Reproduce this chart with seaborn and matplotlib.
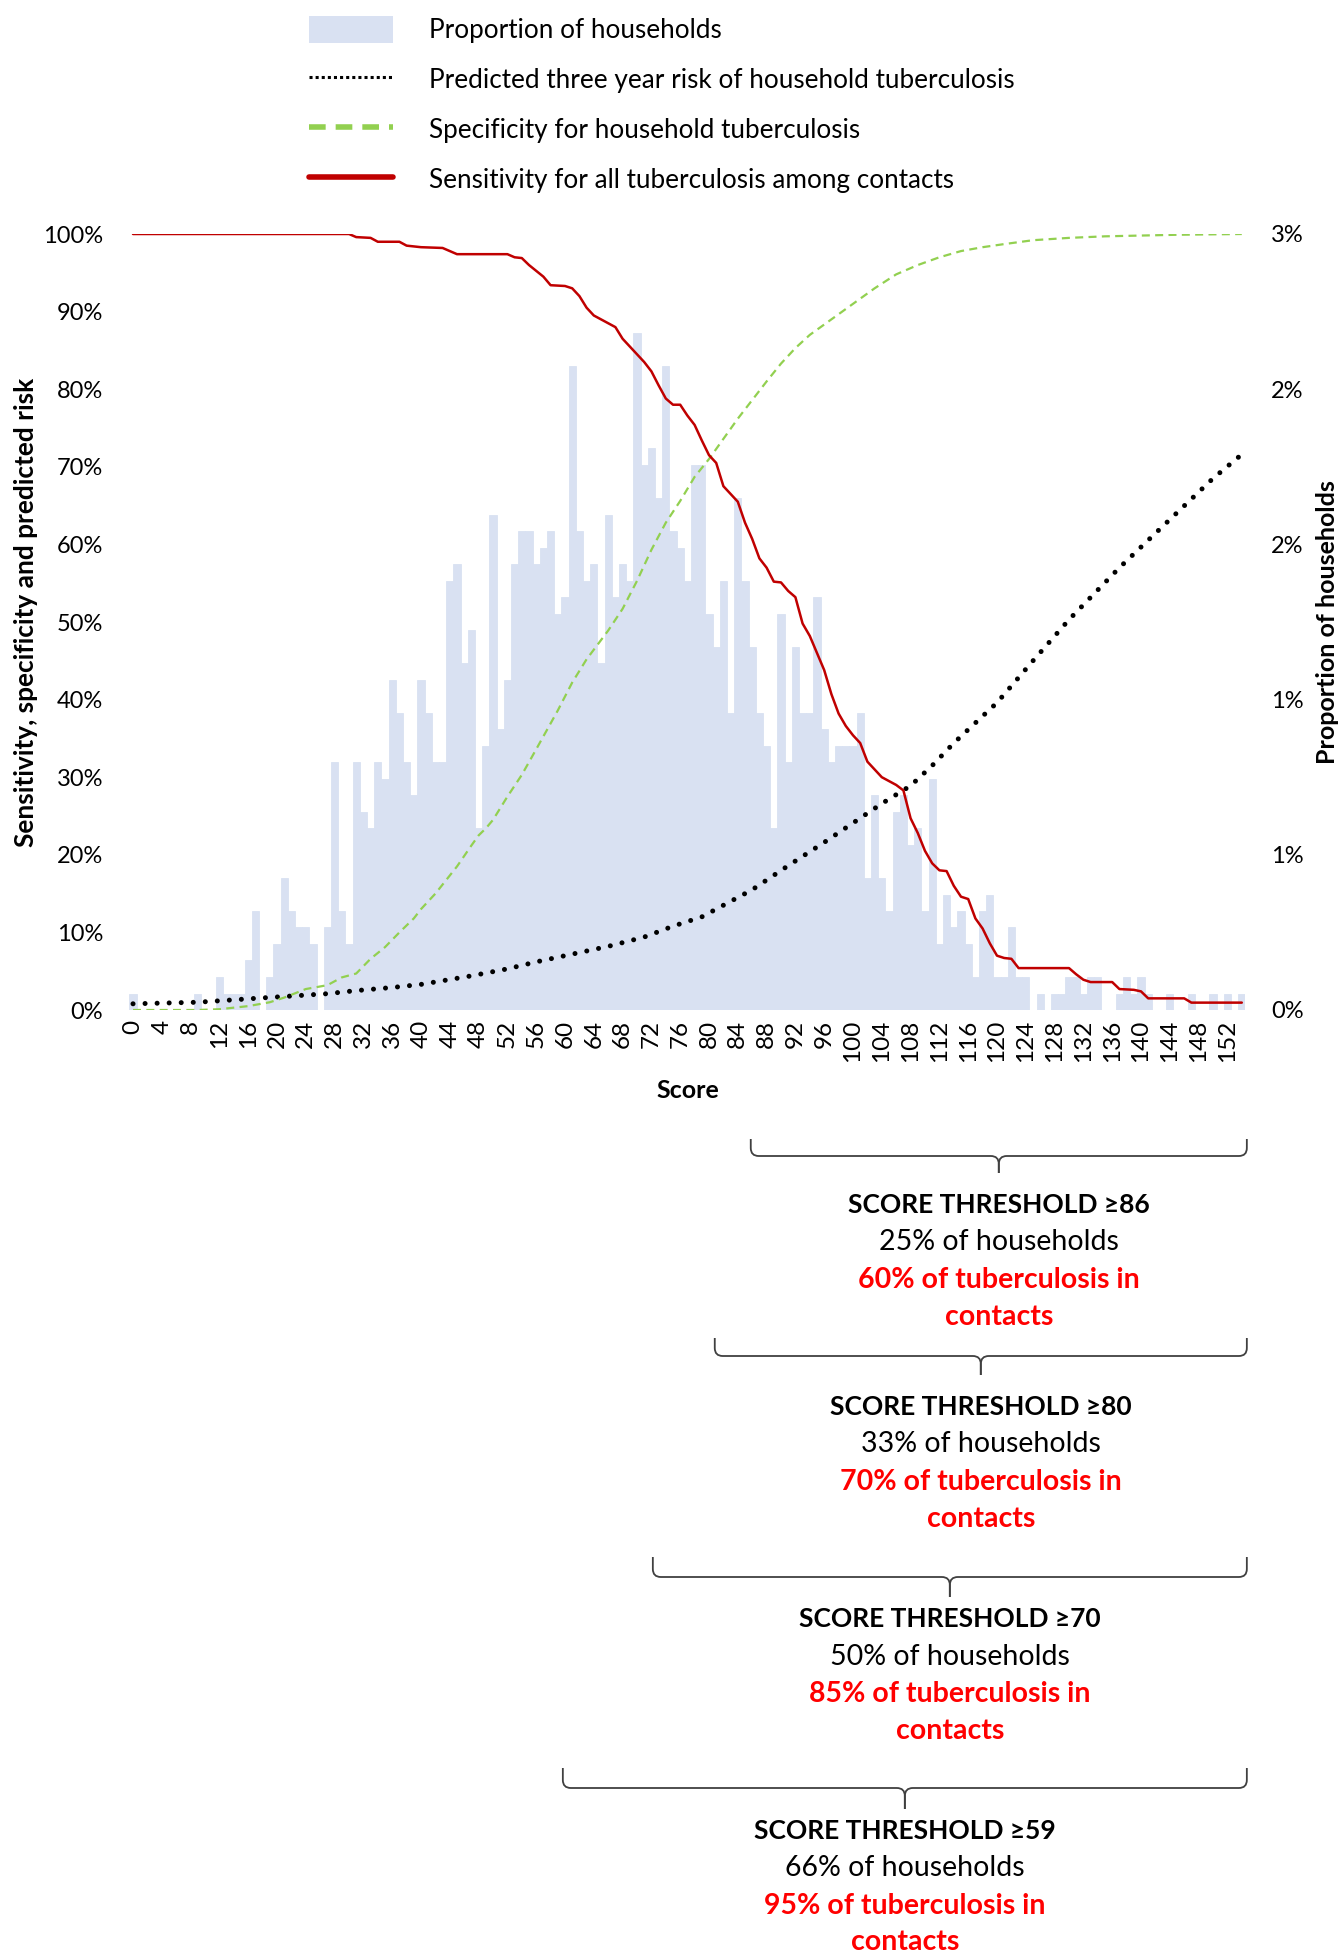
import matplotlib
matplotlib.use("Agg")
import matplotlib.pyplot as plt
import matplotlib.transforms as mtransforms
import numpy as np
import pandas as pd
import seaborn as sns
from matplotlib.lines import Line2D
from matplotlib.patches import Patch, PathPatch
from matplotlib.path import Path

# ---------------- data ----------------
scores = list(range(155))
household_pct = [  # proportion of households (%) per score
    0.053, 0, 0, 0, 0, 0, 0, 0, 0, 0.053,
    0, 0, 0.106, 0.053, 0.053, 0.053, 0.160, 0.319, 0, 0.106,
    0.213, 0.426, 0.319, 0.266, 0.266, 0.213, 0, 0.266, 0.798, 0.319,
    0.213, 0.798, 0.638, 0.585, 0.798, 0.745, 1.064, 0.958, 0.798, 0.692,
    1.064, 0.958, 0.798, 0.798, 1.383, 1.436, 1.117, 1.224, 0.585, 0.851,
    1.596, 0.904, 1.064, 1.436, 1.543, 1.543, 1.436, 1.490, 1.543, 1.277,
    1.330, 2.075, 1.543, 1.383, 1.436, 1.117, 1.596, 1.330, 1.436, 1.383,
    2.181, 1.756, 1.809, 1.649, 2.075, 1.543, 1.490, 1.383, 1.756, 1.756,
    1.277, 1.170, 1.383, 0.958, 1.649, 1.383, 1.170, 0.958, 0.851, 0.585,
    1.277, 0.798, 1.170, 0.958, 0.958, 1.330, 0.904, 0.798, 0.851, 0.851,
    0.851, 0.958, 0.426, 0.692, 0.426, 0.319, 0.638, 0.692, 0.532, 0.585,
    0.319, 0.745, 0.213, 0.372, 0.266, 0.319, 0.213, 0.106, 0.319, 0.372,
    0.106, 0.106, 0.266, 0.106, 0.106, 0, 0.053, 0, 0.053, 0.053,
    0.106, 0.106, 0.053, 0.106, 0.106, 0, 0, 0.053, 0.106, 0.053,
    0.106, 0.053, 0, 0, 0.053, 0, 0, 0.053, 0, 0,
    0.053, 0, 0.053, 0, 0.053,
]

sens_scores = [0, 30, 31, 33, 34, 37, 38, 40, 43, 44, 45, 52, 53, 54, 55, 57, 58, 60, 61, 62,
               63, 64, 66, 67, 68, 70, 71, 72, 73, 74, 75, 76, 77, 78, 79, 80, 81, 82, 83, 84,
               85, 86, 87, 88, 89, 90, 91, 92, 93, 94,
               95, 96, 97, 98, 99, 100, 101, 102, 103, 104, 105, 106, 107, 108, 109, 110, 111,
               112, 113, 114, 115, 116, 117, 118, 119, 120, 121, 122, 123,
               130, 131, 132, 133, 136, 137, 139, 140, 141, 146, 147, 154]
sens_values = [100, 100, 99.6, 99.5, 99.0, 99.0, 98.5, 98.3, 98.2, 97.8, 97.4, 97.4, 97.0, 96.9, 96.0,
               94.5, 93.4, 93.3, 93.0, 92.0, 90.5, 89.5, 88.5, 88.0, 86.5, 84.5, 83.5, 82.3, 80.5,
               78.8, 78.0, 78.0, 76.6, 75.4, 73.4, 71.5, 70.5, 67.5, 66.5, 65.5,
               62.8, 60.7, 58.2, 57.0, 55.2, 55.1, 54.0, 53.2, 49.8, 48.2,
               46.0, 43.8, 40.7, 38.2, 36.6, 35.4, 34.4, 32.0, 31.0, 30.0, 29.5, 29.0, 28.3, 24.7,
               22.8, 20.5, 18.9, 18.0, 17.9, 16.0, 14.6, 14.3, 11.8, 10.5, 8.6, 7.0, 6.7, 6.6, 5.4,
               5.4, 4.6, 3.9, 3.6, 3.6, 2.7, 2.6, 2.4, 1.5, 1.5, 0.95, 0.95]

spec_scores = [0, 9, 12, 16, 19, 21, 24, 27, 29, 31, 33, 35, 37, 39, 40, 42, 45, 47, 48, 49,
               50, 52, 54, 56, 59, 61, 63, 66, 68, 70, 72, 74, 76, 78, 80, 82, 84, 86, 88, 90,
               92, 94, 97, 100, 103, 106, 109, 112, 115, 118, 121, 125, 130, 135, 140, 145, 154]
spec_values = [0, 0, 0.1, 0.5, 1.0, 1.6, 2.7, 3.2, 4.2, 4.7, 6.6, 8.1, 10.0, 11.8, 13.0, 15.0, 18.5,
               21.2, 22.5, 23.4, 24.5, 27.5, 30.3, 33.6, 38.6, 42.2, 45.2, 48.9, 51.7, 55.3,
               59.3, 62.8, 65.6, 68.7, 71.0, 73.6, 76.2, 78.6, 81.0, 83.3,
               85.3, 87.0, 89.0, 91.0, 93.0, 94.8, 96.0, 97.0, 97.8, 98.3, 98.7, 99.2, 99.5, 99.7,
               99.8, 99.9, 100]

risk_scores = [0, 9, 17, 22, 27, 31, 36, 40, 47, 52, 56, 61, 66, 71, 75, 79, 82, 86, 91, 96,
               100, 104, 108, 111, 114, 117, 120, 125, 130, 137, 144, 150, 154]
risk_values = [0.8, 1.0, 1.5, 1.8, 2.1, 2.5, 2.9, 3.3, 4.4, 5.3, 6.2, 7.2, 8.2, 9.4, 10.8, 12.0,
               13.5, 15.5, 18.6, 21.6, 24.1, 26.6, 28.9, 31.5, 34.4, 37.0, 39.6, 45.0, 50.3, 57.0,
               63.2, 68.5, 71.6]

x_tick_values = list(range(0, 155, 4))
left_tick_values = list(range(0, 101, 10))
right_tick_values = [0, 0.5, 1.0, 1.5, 2.0, 2.5]
right_tick_labels = ["0%", "1%", "1%", "2%", "2%", "3%"]

legend_labels = ["Proportion of households",
                 "Predicted three year risk of household tuberculosis",
                 "Specificity for household tuberculosis",
                 "Sensitivity for all tuberculosis among contacts"]

thresholds = [86, 80, 70, 59]
brace_start = [85.8, 80.8, 72.2, 59.7]
brace_end = 154.7
pct_households = [25, 33, 50, 66]
pct_tb = [60, 70, 85, 95]

# ---------------- style ----------------
BAR_COLOR = "#D9E1F2"
RED_LINE = "#C00000"
GREEN = "#92D050"
RED_TEXT = "#FF0000"
BRACE = "#404040"

sns.set_theme(style="white")
plt.rcParams["font.family"] = ["Lato", "DejaVu Sans"]
plt.rcParams["text.color"] = "black"
plt.rcParams["xtick.color"] = "black"
plt.rcParams["ytick.color"] = "black"
plt.rcParams["axes.labelcolor"] = "black"

W, H = 1340, 1955
fig = plt.figure(figsize=(W / 100, H / 100), dpi=100)
fig.patch.set_facecolor("white")

ax_bar = fig.add_axes([129.4 / W, 1 - 1010 / H, 1116 / W, 776 / H])
ax_line = ax_bar.twinx()

df_bar = pd.DataFrame({"score": scores, "prop": household_pct})
sns.barplot(data=df_bar, x="score", y="prop", ax=ax_bar, color=BAR_COLOR,
            saturation=1, width=1.0, errorbar=None, edgecolor=BAR_COLOR, linewidth=0.6)

df_risk = pd.DataFrame({"score": risk_scores, "v": risk_values})
df_spec = pd.DataFrame({"score": spec_scores, "v": spec_values})
df_sens = pd.DataFrame({"score": sens_scores, "v": sens_values})

sns.lineplot(data=df_risk, x="score", y="v", ax=ax_line, color="black", lw=3.6,
             linestyle=(0, (0.01, 2.4)), dash_capstyle="round", errorbar=None)
sns.lineplot(data=df_spec, x="score", y="v", ax=ax_line, color=GREEN, lw=1.6,
             linestyle=(0, (3.6, 2.4)), errorbar=None)
sns.lineplot(data=df_sens, x="score", y="v", ax=ax_line, color=RED_LINE, lw=1.8,
             errorbar=None)

# axes configuration
ax_bar.set_xlim(-0.5, 154.5)
ax_bar.set_ylim(0, 2.5)
ax_line.set_ylim(0, 100)

ax_bar.yaxis.tick_right()
ax_bar.yaxis.set_label_position("right")
ax_line.yaxis.tick_left()
ax_line.yaxis.set_label_position("left")

ax_bar.set_xticks(x_tick_values)
ax_bar.set_xticklabels([str(v) for v in x_tick_values], rotation=90, fontsize=17.5)
ax_bar.set_yticks(right_tick_values)
ax_bar.set_yticklabels(right_tick_labels, fontsize=17)
ax_line.set_yticks(left_tick_values)
ax_line.set_yticklabels([f"{v}%" for v in left_tick_values], fontsize=17)

ax_bar.tick_params(axis="x", length=0, pad=7)
ax_bar.tick_params(axis="y", length=0, pad=18.5)
ax_line.tick_params(axis="y", length=0, pad=19)

for a in (ax_bar, ax_line):
    for s in a.spines.values():
        s.set_visible(False)
    a.grid(False)

ax_bar.set_xlabel("Score", fontsize=18, fontweight="bold")
ax_bar.xaxis.set_label_coords(0.5, -0.089)
ax_bar.set_ylabel("Proportion of households", fontsize=18, fontweight="bold")
ax_bar.yaxis.set_label_coords(1.0632, 0.5)
ax_line.set_ylabel("Sensitivity, specificity and predicted risk", fontsize=18.9, fontweight="bold")
ax_line.yaxis.set_label_coords(-0.0815, 0.513)

# legend
handles = [Patch(facecolor=BAR_COLOR, edgecolor="none"),
           Line2D([], [], color="black", lw=2.2, linestyle=(0, (1, 1))),
           Line2D([], [], color=GREEN, lw=4, linestyle=(0, (3, 1.8))),
           Line2D([], [], color=RED_LINE, lw=4)]
fig.legend(handles, legend_labels, loc="upper left", bbox_to_anchor=(309 / W, 1 - 16 / H),
           frameon=False, fontsize=18.8, handlelength=3.22, handleheight=1.19,
           handletextpad=1.38, labelspacing=0.87, borderpad=0, borderaxespad=0)

# braces and annotations
trans = mtransforms.blended_transform_factory(ax_bar.transData, fig.transFigure)
brace_y = [(1139, 1156, 1173), (1338, 1356, 1375), (1557, 1577, 1597), (1768, 1788, 1809)]
text_y = [(1205, 1242, 1280, 1317), (1407, 1444, 1482, 1519),
          (1619, 1657, 1694, 1731), (1831, 1868, 1906, 1942)]
rx = 8 / 7.2  # corner radius in score units
ry = 8 / H


def fy(px):
    return 1 - px / H


for i, thr in enumerate(thresholds):
    x0, x1 = brace_start[i], brace_end
    xm = (x0 + x1) / 2
    yt, yl, yp = [fy(v) for v in brace_y[i]]
    for sgn, xe in ((1, x0), (-1, x1)):
        verts = [(xe, yt), (xe, yl + ry), (xe, yl), (xe + sgn * rx, yl),
                 (xm - sgn * rx, yl), (xm, yl), (xm, yl - ry), (xm, yp)]
        codes = [Path.MOVETO, Path.LINETO, Path.CURVE3, Path.CURVE3,
                 Path.LINETO, Path.CURVE3, Path.CURVE3, Path.LINETO]
        fig.add_artist(PathPatch(Path(verts, codes), transform=trans, fill=False,
                                 edgecolor=BRACE, lw=1.3, clip_on=False))
    t1, t2, t3, t4 = text_y[i]
    fig.text(xm, fy(t1), f"SCORE THRESHOLD \u2265{thr}", transform=trans, ha="center",
             va="center", fontsize=19, fontweight="bold", color="black")
    fig.text(xm, fy(t2), f"{pct_households[i]}% of households", transform=trans, ha="center",
             va="center", fontsize=20.5, color="black")
    fig.text(xm, fy(t3), f"{pct_tb[i]}% of tuberculosis in", transform=trans, ha="center",
             va="center", fontsize=20.5, fontweight="bold", color=RED_TEXT)
    fig.text(xm, fy(t4), "contacts", transform=trans, ha="center",
             va="center", fontsize=20.5, fontweight="bold", color=RED_TEXT)

fig.savefig("out.png", dpi=100, facecolor="white")
